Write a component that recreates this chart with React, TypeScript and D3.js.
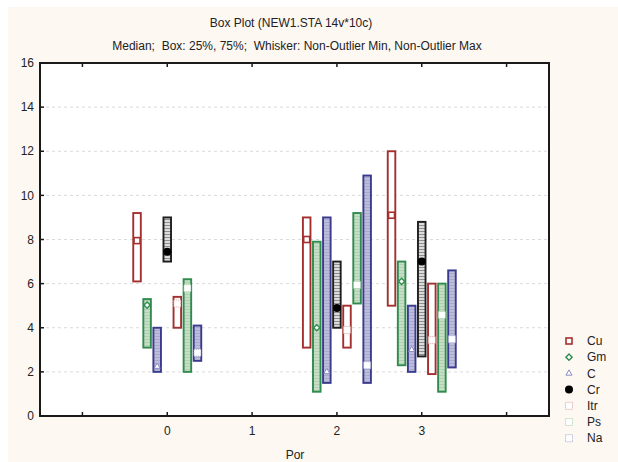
import React, { useEffect, useRef } from 'react';
import * as d3 from 'd3';

// categories
const porValues = [0, 2, 3];
const seriesNames = ['Cu', 'Gm', 'C', 'Cr', 'Itr', 'Ps', 'Na'];
const yTicks = [0, 2, 4, 6, 8, 10, 12, 14, 16];
const xTickValues = [-1, 0, 1, 2, 3, 4];
const xTickLabels = ['', '0', '1', '2', '3', ''];

// 25% / median / 75% per series (order: Cu, Gm, C, Cr, Itr, Ps, Na)
const q25Por0 = [6.1, 3.1, 2.0, 7.0, 4.0, 2.0, 2.5];
const medPor0 = [7.95, 5.03, 2.24, 7.45, 5.1, 5.79, 2.87];
const q75Por0 = [9.2, 5.3, 4.0, 9.0, 5.4, 6.2, 4.1];

const q25Por2 = [3.1, 1.1, 1.5, 4.0, 3.1, 5.1, 1.5];
const medPor2 = [8.0, 4.0, 2.0, 4.9, 3.9, 5.94, 2.3];
const q75Por2 = [9.0, 7.9, 9.0, 7.0, 5.0, 9.2, 10.9];

const q25Por3 = [5.0, 2.3, 2.0, 2.7, 1.9, 1.1, 2.2];
const medPor3 = [9.1, 6.1, 3.0, 7.0, 3.44, 4.58, 3.48];
const q75Por3 = [12.0, 7.0, 5.0, 8.8, 6.0, 6.0, 6.6];

const RED = '#a3302f';
const GREEN = '#2f8c4c';
const NAVY = '#3b3b8e';

const App = () => {
    const ref = useRef(null);

    useEffect(() => {
        const svg = d3.select(ref.current);
        svg.selectAll('*').remove();

        const margin = { left: 40, top: 63, right: 549, bottom: 416 };

        const defs = svg.append('defs');
        const hatch = (id, base, line) => {
            const p = defs.append('pattern')
                .attr('id', id)
                .attr('patternUnits', 'userSpaceOnUse')
                .attr('width', 6)
                .attr('height', 3);
            p.append('rect').attr('width', 6).attr('height', 3).attr('fill', base);
            p.append('line').attr('x1', 0).attr('x2', 6).attr('y1', 0.5).attr('y2', 0.5)
                .attr('stroke', line).attr('stroke-width', 1);
        };
        hatch('hGreen', '#c6ddc6', '#b3ceb3');
        hatch('hNavy', '#bdbddb', '#aaaacd');
        hatch('hGray', '#dcdcdc', '#8e8e8e');

        const styles = {
            Cu: { stroke: RED, fill: '#fff' },
            Gm: { stroke: GREEN, fill: 'url(#hGreen)' },
            C: { stroke: NAVY, fill: 'url(#hNavy)' },
            Cr: { stroke: '#1e1e1e', fill: 'url(#hGray)' },
            Itr: { stroke: RED, fill: '#fff' },
            Ps: { stroke: GREEN, fill: 'url(#hGreen)' },
            Na: { stroke: NAVY, fill: 'url(#hNavy)' }
        };

        svg.append('rect').attr('width', 618).attr('height', 462).attr('fill', '#fff');
        svg.append('rect').attr('x', 8).attr('y', 7).attr('width', 610).attr('height', 455).attr('fill', '#fdf8f2');

        const x = d3.scaleLinear().domain([-1.5, 4.5]).range([margin.left, margin.right]);
        const y = d3.scaleLinear().domain([0, 16]).range([margin.bottom, margin.top]);
        const inner = d3.scaleBand().domain(seriesNames).range([-34, 34]).paddingInner(0.25);

        svg.append('rect')
            .attr('x', margin.left).attr('y', margin.top)
            .attr('width', margin.right - margin.left).attr('height', margin.bottom - margin.top)
            .attr('fill', '#fff');

        // grid
        svg.append('g').selectAll('line')
            .data(yTicks.filter(d => d > 0 && d < 16))
            .enter().append('line')
            .attr('x1', margin.left).attr('x2', margin.right)
            .attr('y1', d => y(d)).attr('y2', d => y(d))
            .attr('stroke', '#dadada').attr('stroke-width', 1)
            .attr('stroke-dasharray', '3,3');

        // boxes
        const groups = [
            { por: porValues[0], q25: q25Por0, med: medPor0, q75: q75Por0 },
            { por: porValues[1], q25: q25Por2, med: medPor2, q75: q75Por2 },
            { por: porValues[2], q25: q25Por3, med: medPor3, q75: q75Por3 }
        ];

        const marker = (g, name, cx, cy) => {
            if (name === 'Cu') {
                g.append('rect').attr('x', cx - 3).attr('y', cy - 3).attr('width', 6).attr('height', 6)
                    .attr('fill', '#fff').attr('stroke', RED).attr('stroke-width', 1.6);
            } else if (name === 'Gm') {
                g.append('rect').attr('x', -2.2).attr('y', -2.2).attr('width', 4.4).attr('height', 4.4)
                    .attr('transform', `translate(${cx},${cy}) rotate(45)`)
                    .attr('fill', '#fff').attr('stroke', GREEN).attr('stroke-width', 1.4);
            } else if (name === 'C') {
                g.append('path').attr('d', d3.symbol(d3.symbolTriangle, 16)())
                    .attr('transform', `translate(${cx},${cy})`)
                    .attr('fill', '#fff').attr('stroke', '#8a8ac4').attr('stroke-width', 1);
            } else if (name === 'Cr') {
                g.append('circle').attr('cx', cx).attr('cy', cy).attr('r', 4).attr('fill', '#000');
            } else {
                const c = name === 'Itr' ? '#d9a0a0' : name === 'Ps' ? '#a8cca8' : '#a8a8d0';
                g.append('rect').attr('x', cx - 3.5).attr('y', cy - 3.5).attr('width', 7).attr('height', 7)
                    .attr('fill', '#fff').attr('stroke', c).attr('stroke-width', 1)
                    .attr('stroke-dasharray', '1,1');
            }
        };

        const boxes = svg.append('g');
        groups.forEach(grp => {
            seriesNames.forEach((name, i) => {
                const bx = x(grp.por) + inner(name);
                const bw = inner.bandwidth();
                boxes.append('rect')
                    .attr('x', bx).attr('y', y(grp.q75[i]))
                    .attr('width', bw).attr('height', y(grp.q25[i]) - y(grp.q75[i]))
                    .attr('fill', styles[name].fill)
                    .attr('stroke', styles[name].stroke)
                    .attr('stroke-width', 1.9);
                marker(boxes, name, bx + bw / 2, y(grp.med[i]));
            });
        });

        // frame
        svg.append('rect')
            .attr('x', margin.left).attr('y', margin.top)
            .attr('width', margin.right - margin.left).attr('height', margin.bottom - margin.top)
            .attr('fill', 'none').attr('stroke', '#1a1a1a').attr('stroke-width', 2);

        // y ticks
        const yAxis = svg.append('g').attr('font-family', 'Arial, "Liberation Sans", sans-serif').attr('font-size', 12);
        yTicks.forEach(t => {
            yAxis.append('line').attr('x1', margin.left).attr('x2', margin.left + 4)
                .attr('y1', y(t)).attr('y2', y(t)).attr('stroke', '#1a1a1a').attr('stroke-width', 1.5);
            yAxis.append('text').attr('x', 34).attr('y', y(t)).attr('dy', '0.35em')
                .attr('text-anchor', 'end').attr('fill', '#222').text(t);
        });

        // x ticks
        const xAxis = svg.append('g').attr('font-family', 'Arial, "Liberation Sans", sans-serif').attr('font-size', 12);
        xTickValues.forEach((t, i) => {
            xAxis.append('line').attr('x1', x(t)).attr('x2', x(t))
                .attr('y1', margin.bottom).attr('y2', margin.bottom - 4).attr('stroke', '#1a1a1a').attr('stroke-width', 1.5);
            xAxis.append('line').attr('x1', x(t)).attr('x2', x(t))
                .attr('y1', margin.top).attr('y2', margin.top + 4).attr('stroke', '#1a1a1a').attr('stroke-width', 1.5);
            xAxis.append('text').attr('x', x(t)).attr('y', 435)
                .attr('text-anchor', 'middle').attr('fill', '#222').text(xTickLabels[i]);
        });
        xAxis.append('text').attr('x', 295).attr('y', 459).attr('text-anchor', 'middle').attr('fill', '#222').text('Por');

        // titles
        const titles = svg.append('g').attr('font-family', 'Arial, "Liberation Sans", sans-serif').attr('font-size', 12).attr('fill', '#222');
        titles.append('text').attr('x', 291).attr('y', 27).attr('text-anchor', 'middle').text('Box Plot (NEW1.STA 14v*10c)');
        titles.append('text').attr('x', 297).attr('y', 50).attr('text-anchor', 'middle')
            .attr('xml:space', 'preserve').style('white-space', 'pre')
            .text('Median;  Box: 25%, 75%;  Whisker: Non-Outlier Min, Non-Outlier Max');

        // legend
        const legend = svg.append('g').attr('font-family', 'Arial, "Liberation Sans", sans-serif').attr('font-size', 12);
        seriesNames.forEach((name, i) => {
            const ly = 341 + i * 16.2;
            marker(legend, name, 569, ly);
            legend.append('text').attr('x', 587).attr('y', ly).attr('dy', '0.35em').attr('fill', '#222').text(name);
        });
    }, []);

    return (
        <svg
            ref={ref}
            width={618}
            height={462}
            style={{ position: 'absolute', left: 0, top: 0, display: 'block' }}
        />
    );
};

export default App;
